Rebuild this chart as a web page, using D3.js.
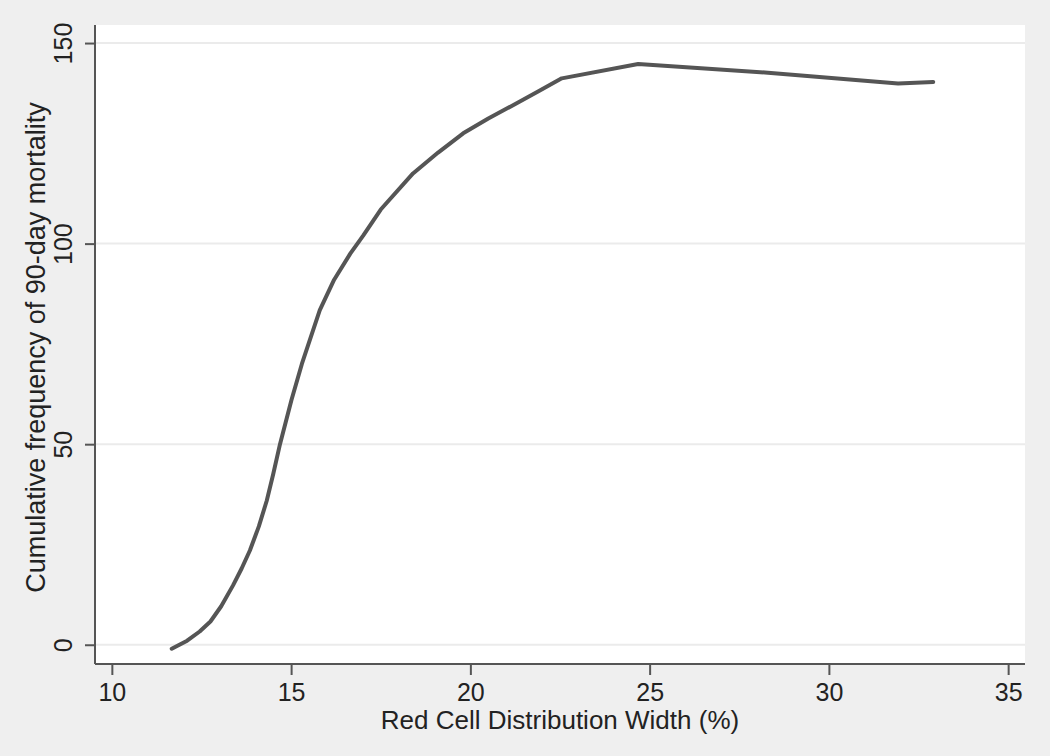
<!DOCTYPE html>
<html>
<head>
<meta charset="utf-8">
<style>
    body {
        margin: 0;
        background: #efefef;
        font-family: 'Liberation Sans', Arial, sans-serif;
    }
    .axis text {
        font-size: 25px;
        fill: #222;
    }
</style>
</head>
<body>
<svg width="1050" height="756"></svg>
<script src="https://d3js.org/d3.v7.min.js"></script>
<script>
    // values
    var rdw = [11.67, 12.1, 12.45, 12.75, 13.05, 13.38, 13.62, 13.85, 14.1, 14.32, 14.5, 14.69, 15.01, 15.3, 15.8, 16.2, 16.65, 17.01, 17.5, 18.4, 19.1, 19.8, 20.5, 21.19, 21.9, 22.55, 24.68, 28.3, 31.93, 32.91];
    var cumFreq = [-1, 1, 3.3, 5.8, 9.6, 14.8, 19, 23.5, 29.5, 35.9, 42.5, 50, 61, 70, 83.4, 91, 97.5, 102, 108.5, 117.5, 122.7, 127.5, 131.2, 134.5, 138, 141.2, 144.8, 142.6, 139.9, 140.3];
    var xTicks = [10, 15, 20, 25, 30, 35];
    var yTicks = [0, 50, 100, 150];

    var svg = d3.select("svg"),
        margin = {top: 25, right: 25, bottom: 92, left: 95},
        width = +svg.attr("width") - margin.left - margin.right,
        height = +svg.attr("height") - margin.top - margin.bottom;

    var x = d3.scaleLinear().domain([9.53, 35.47]).range([0, width]);
    var y = d3.scaleLinear().domain([-4.8, 154.5]).range([height, 0]);

    var g = svg.append("g").attr("transform", "translate(" + margin.left + "," + margin.top + ")");

    // plot region
    g.append("rect")
        .attr("width", width)
        .attr("height", height)
        .attr("fill", "#fff");

    // gridlines
    g.append("g")
        .selectAll("line")
        .data(yTicks)
        .enter().append("line")
        .attr("x1", 0)
        .attr("x2", width)
        .attr("y1", function (d) { return y(d); })
        .attr("y2", function (d) { return y(d); })
        .attr("stroke", "#ebebeb")
        .attr("stroke-width", 2);

    var data = rdw.map(function (d, i) { return [d, cumFreq[i]]; });

    var line = d3.line()
        .x(function (d) { return x(d[0]); })
        .y(function (d) { return y(d[1]); });

    g.append("path")
        .datum(data)
        .attr("d", line)
        .attr("fill", "none")
        .attr("stroke", "#555")
        .attr("stroke-width", 4)
        .attr("stroke-linecap", "round")
        .attr("stroke-linejoin", "round");

    // x axis
    var xAxis = g.append("g")
        .attr("class", "axis")
        .attr("transform", "translate(0," + height + ")")
        .call(d3.axisBottom(x).tickValues(xTicks).tickSize(11).tickPadding(8).tickSizeOuter(0));

    // y axis
    var yAxis = g.append("g")
        .attr("class", "axis")
        .call(d3.axisLeft(y).tickValues(yTicks).tickSize(10).tickSizeOuter(0));

    yAxis.selectAll(".tick text")
        .attr("transform", "rotate(-90)")
        .attr("x", 0)
        .attr("y", -23)
        .attr("dy", 0)
        .style("text-anchor", "middle");

    g.selectAll(".axis .domain, .axis .tick line")
        .attr("stroke", "#555")
        .attr("stroke-width", 2);

    // the axis lines span the whole plot region
    xAxis.select(".domain").attr("d", "M0,0H" + width);
    yAxis.select(".domain").attr("d", "M0,0V" + height);

    // axis titles
    svg.append("text")
        .attr("x", margin.left + width / 2)
        .attr("y", 729)
        .attr("text-anchor", "middle")
        .attr("font-size", 26)
        .attr("fill", "#222")
        .text("Red Cell Distribution Width (%)");

    svg.append("text")
        .attr("transform", "translate(45," + (margin.top + height / 2 + 3) + ") rotate(-90)")
        .attr("text-anchor", "middle")
        .attr("font-size", 27)
        .attr("fill", "#222")
        .text("Cumulative frequency of 90-day mortality");
</script>
</body>
</html>
